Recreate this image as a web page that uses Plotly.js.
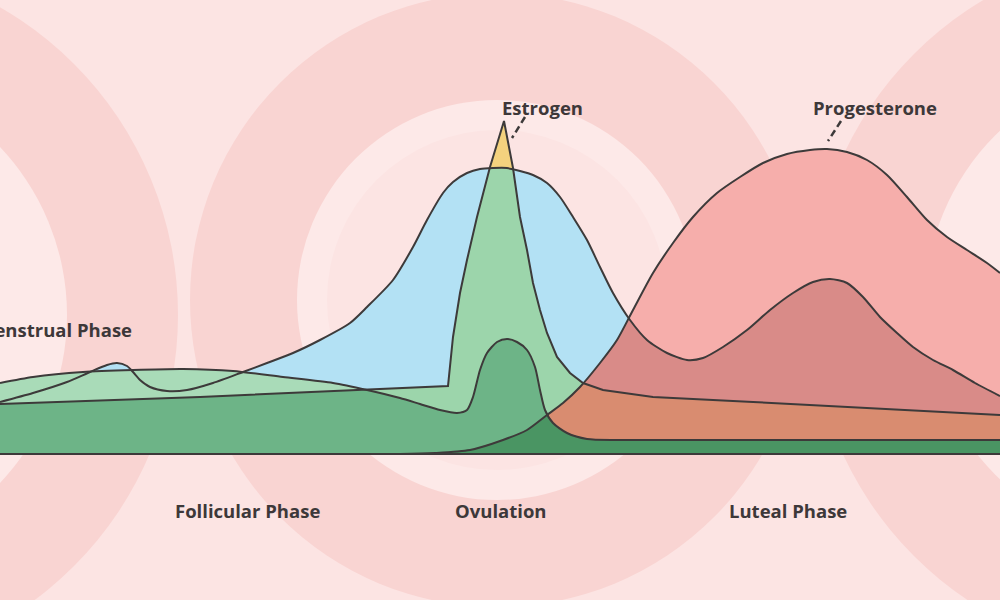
<!DOCTYPE html>
<html>
<head>
<meta charset="utf-8">
<script src="https://cdn.plot.ly/plotly-3.0.1.min.js"></script>
<style>html,body{margin:0;padding:0;background:#fce3e2;}#chart{width:1000px;height:600px;}</style>
</head>
<body>
<div id="chart"></div>
<script>
// Cycle position (% of cycle) and hormone level (arbitrary units)
const estrogenX = [0,3.3,6.7,9,10.7,11.7,12.7,13.3,14,15,16.7,18.7,21.3,24.3,26.7,29.3,32,35,36.7,39.3,41.3,42.7,44.3,45.3,46.7,48,49.3,50.7,52,53.3,54.7,56,57.3,58.7,60,61.3,63,64.7,66.7,68.7,70.3,72.3,74.7,77,79.3,81.3,83,84.7,86.3,88,89.7,91.3,93.3,95.3,97.5,100];
const estrogenY = [52,61,72,82,89,91,88,82,74,67,63,64,71,82,91,101,114,131,147,174,207,234,261,272,281,285,286,286,283,279,271,257,237,214,187,161,134,114,101,94,96,107,124,144,161,172,175,171,157,137,121,107,94,84,71,58];

const lhX = [0,20,44.8,45.3,46,46.7,47.7,48.7,49,50.4,51.3,52,52.7,53.3,54,54.7,55.7,57,58.3,60.3,62.7,65.3,75.3,85.3,100];
const lhY = [50,57,68,117,161,194,237,277,287,333,286,237,204,171,144,121,97,81,71,64,61,57,52,47,39];

const fshX = [0,3.3,8.3,13.3,18.3,23.3,28.3,33.3,36.7,40,42,44,45.7,46.7,47.3,48,48.7,49.7,50.7,51.7,52.7,53.5,54,54.5,55.3,56.7,58.7,62,100];
const fshY = [71,77,82,84,85,83,77,71,64,56,50,44,41,44,57,84,101,112,115,112,104,87,64,44,31,21,15,14,14];

const progX = [0,40,43.5,47,50.3,52.7,54.7,56.3,58,60,61.7,63.3,65.3,67.3,69.3,71.7,74,76.3,78.7,81,82.7,84.7,86.7,88.7,90.7,92.7,94.7,96.7,98.7,100];
const progY = [0,0,1,4,14,24,39,51,67,91,114,144,181,211,237,261,277,291,300,304,305,302,294,279,257,234,217,204,191,181];

const phaseLabels = ['Follicular Phase','Ovulation','Luteal Phase'];
const phaseX = [24.7, 50.1, 78.8];
const menstrualLabel = 'Menstrual Phase';
const seriesLabels = ['Estrogen','Progesterone'];

// ---------- helpers: lower envelope of polylines (exact, with crossings) ----------
function evalAt(xs, ys, x){
  if (x <= xs[0]) return ys[0];
  for (let i=0;i<xs.length-1;i++){
    if (x <= xs[i+1]) {
      const t = (x - xs[i]) / (xs[i+1]-xs[i]);
      return ys[i] + t*(ys[i+1]-ys[i]);
    }
  }
  return ys[ys.length-1];
}
function envelope(list){
  let X = [];
  list.forEach(s => s.x.forEach(v => X.push(v)));
  X = Array.from(new Set(X)).sort((a,b)=>a-b);
  const ox=[], oy=[];
  const minAt = x => Math.min(...list.map(s => evalAt(s.x, s.y, x)));
  for (let i=0;i<X.length;i++){
    ox.push(X[i]); oy.push(minAt(X[i]));
    if (i === X.length-1) break;
    const a = list.map(s => evalAt(s.x,s.y,X[i]));
    const b = list.map(s => evalAt(s.x,s.y,X[i+1]));
    const ts = [];
    for (let j=0;j<list.length;j++) for (let k=j+1;k<list.length;k++){
      const d0 = a[j]-a[k], d1 = b[j]-b[k];
      if (d0*d1 < 0) ts.push(d0/(d0-d1));
    }
    ts.sort((p,q)=>p-q).forEach(t=>{
      const x = X[i] + t*(X[i+1]-X[i]);
      ox.push(x); oy.push(minAt(x));
    });
  }
  return {x: ox, y: oy};
}

const E = {x: estrogenX, y: estrogenY, shape:'spline'};
const L = {x: lhX, y: lhY, shape:'linear'};
const F = {x: fshX, y: fshY, shape:'spline'};
const P = {x: progX, y: progY, shape:'spline'};

function fillTrace(s, color){
  return {x: s.x, y: s.y, type:'scatter', mode:'lines',
          line:{width:0, color:color, shape: s.shape || 'linear', smoothing:0.7},
          fill:'tozeroy', fillcolor: color, hoverinfo:'skip', showlegend:false};
}
function lineTrace(s){
  return {x: s.x, y: s.y, type:'scatter', mode:'lines',
          line:{width:2, color:'#3d3a3a', shape: s.shape, smoothing:0.7}, hoverinfo:'skip', showlegend:false};
}

const traces = [
  fillTrace(E, '#b3e1f4'),
  fillTrace(L, '#f4d27e'),
  fillTrace(envelope([E,L]), '#9cd5ab'),
  fillTrace(F, '#a9dbb8'),
  fillTrace(envelope([E,L,F]), '#6db487'),
  fillTrace(P, '#f6aeab'),
  fillTrace(envelope([P,E]), '#d98b88'),
  fillTrace(envelope([P,E,L]), '#d98c70'),
  fillTrace(envelope([P,F]), '#4a9563'),
  lineTrace(E), lineTrace(L), lineTrace(F), lineTrace(P)
];

// ---------- background rings (pixel geometry -> paper coords) ----------
function circ(cx, cy, r, color){
  return {type:'circle', xref:'paper', yref:'paper', layer:'below',
    x0:(cx-r)/1000, x1:(cx+r)/1000, y0:1-(cy+r)/600, y1:1-(cy-r)/600,
    fillcolor:color, line:{width:0}};
}
const DARK='#f9d4d2', LIGHT='#fde9e8', BASE='#fce4e3';
const shapes = [
  circ(-177, 315, 355, DARK), circ(-177, 315, 244, LIGHT),
  circ(497, 300, 307, DARK), circ(497, 300, 200, LIGHT), circ(497, 300, 170, BASE),
  circ(1165, 305, 355, DARK), circ(1165, 305, 240, LIGHT),
  // baseline
  {type:'line', xref:'paper', yref:'y', x0:0, x1:1, y0:0, y1:0, layer:'above', line:{color:'#3d3a3a', width:2}},
  // leader dashes
  {type:'line', xref:'paper', yref:'paper', x0:0.525, y0:1-117/600, x1:0.512, y1:1-138/600, layer:'above', line:{color:'#3d3a3a', width:2.5, dash:'7px,4px'}},
  {type:'line', xref:'paper', yref:'paper', x0:0.841, y0:1-121/600, x1:0.828, y1:1-141/600, layer:'above', line:{color:'#3d3a3a', width:2.5, dash:'7px,4px'}}
];

const font = {family:'"Open Sans", Lato, sans-serif', size:18.5, color:'#3d3839', weight:700};
const annotations = [
  {text: seriesLabels[0], xref:'paper', yref:'paper', x:0.542, y:1-108/600, showarrow:false, font:font, xanchor:'center', yanchor:'middle'},
  {text: seriesLabels[1], xref:'paper', yref:'paper', x:0.875, y:1-108/600, showarrow:false, font:font, xanchor:'center', yanchor:'middle'},
  {text: menstrualLabel, xref:'paper', yref:'paper', x:0.134, y:1-329/600, showarrow:false, font:font, xanchor:'right', yanchor:'middle'}
];
phaseLabels.forEach((t,i)=>annotations.push({text:t, xref:'x', yref:'paper', x:phaseX[i], y:1-510/600, showarrow:false, font:font, xanchor:'center', yanchor:'middle'}));

const layout = {
  width:1000, height:600,
  margin:{l:0,r:0,t:0,b:0,pad:0},
  paper_bgcolor: BASE, plot_bgcolor:'rgba(0,0,0,0)',
  xaxis:{range:[0,100], visible:false, fixedrange:true},
  yaxis:{range:[-146,454], visible:false, fixedrange:true},
  shapes: shapes, annotations: annotations, showlegend:false
};
Plotly.newPlot('chart', traces, layout, {staticPlot:true, displayModeBar:false});
</script>
</body>
</html>
